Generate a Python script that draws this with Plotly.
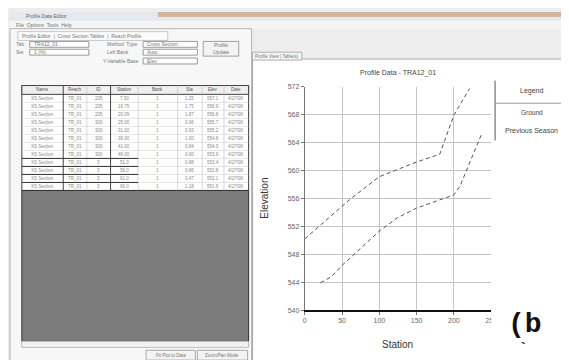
import plotly.graph_objects as go

W, H = 569, 360

# ---- chart data ----
station_ground = [0, 60, 100, 150, 181, 200, 221]
elev_ground = [550.2, 555.8, 559.1, 561.2, 562.3, 567.9, 571.7]
station_prev = [21, 36, 50, 100, 124, 150, 200, 208, 238]
elev_prev = [543.9, 544.8, 546.4, 551.3, 553.2, 554.6, 556.5, 557.7, 565.4]

x_ticks = [0, 50, 100, 150, 200, 250]
y_ticks = [540, 544, 548, 552, 556, 560, 564, 568, 572]

chart_title = "Profile Data - TRA12_01"
legend_items = ["Legend", "Ground", "Previous Season"]

# ---- table beside the chart (illegible in the source; approximate) ----
tbl_header = ["Name", "Reach", "ID", "Station", "Bank", "Sta", "Elev", "Date"]
tbl_name = ["XS Section", "XS Section", "XS Section", "XS Section", "XS Section", "XS Section",
            "XS Section", "XS Section", "XS Section", "XS Section", "XS Section", "XS Section"]
tbl_reach = ["TR_01"] * 12
tbl_id = ["205", "205", "205", "300", "300", "300", "300", "300", "3", "3", "3", "3"]
tbl_station = ["7.50", "16.75", "20.09", "25.00", "31.00", "36.00", "41.00", "46.00",
               "51.0", "56.0", "61.0", "66.0"]
tbl_bank = ["1"] * 12
tbl_sta = ["1.25", "1.75", "1.87", "0.96", "0.93", "1.00", "0.84", "0.90", "0.88", "0.86", "0.47", "1.18"]
tbl_elev = ["557.1", "556.9", "556.8", "555.7", "555.2", "554.8", "554.3", "553.9",
            "553.4", "552.8", "552.1", "551.6"]
tbl_date = ["4/27/06"] * 12


def px(x):
    return x / W


def py(y):
    return 1 - y / H


def rect(x0, y0, x1, y1, fill, line="rgba(0,0,0,0)", lw=1, layer="below"):
    return dict(type="rect", xref="paper", yref="paper", x0=px(x0), x1=px(x1),
                y0=py(y1), y1=py(y0), fillcolor=fill, line=dict(color=line, width=lw),
                layer=layer)


def hline(x0, x1, y, color, lw=1):
    return dict(type="line", xref="paper", yref="paper", x0=px(x0), x1=px(x1),
                y0=py(y), y1=py(y), line=dict(color=color, width=lw))


def vline(x, y0, y1, color, lw=1):
    return dict(type="line", xref="paper", yref="paper", x0=px(x), x1=px(x),
                y0=py(y0), y1=py(y1), line=dict(color=color, width=lw))


def label(x, y, text, size=5, color="#777", anchor="left", font="Liberation Sans"):
    return dict(xref="paper", yref="paper", x=px(x), y=py(y), text=text, showarrow=False,
                xanchor=anchor, yanchor="middle", font=dict(size=size, color=color, family=font))


fig = go.Figure()

fig.add_trace(go.Scatter(x=station_ground, y=elev_ground, mode="lines", name=legend_items[1],
                         line=dict(color="#555", width=1, dash="4px,3px"), showlegend=False))
fig.add_trace(go.Scatter(x=station_prev, y=elev_prev, mode="lines", name=legend_items[2],
                         line=dict(color="#555", width=1, dash="4px,3px"), showlegend=False))

shapes = [
    # window chrome
    rect(0, 0, W, 9, "#e4e9ef"),
    rect(150, 0, W, 5, "#d6b59a"),
    rect(0, 9, W, 17, "#f4f4f4"),
    rect(0, 17, 245, 358, "#f7f7f7", "#b5b5b5"),
    rect(8, 20, 160, 29, "#fbfbfb", "#c7c7c7"),
    # left controls
    rect(20, 30, 80, 36, "white", "#9a9a9a"),
    rect(20, 38, 80, 44, "white", "#9a9a9a"),
    rect(135, 30, 190, 36, "white", "#9a9a9a"),
    rect(135, 38, 190, 44, "white", "#9a9a9a"),
    rect(135, 47, 190, 53, "white", "#9a9a9a"),
    rect(196, 30, 232, 45, "#f3f3f3", "#a0a0a0"),
    # table
    rect(12, 75, 242, 182, "white", "#444"),
    rect(12, 75, 242, 84, "#efefef", "#444"),
    # grey empty grid area under the table
    rect(12, 182, 242, 336, "#7b7b7b", "#333", 1),
    rect(12, 336, 242, 342, "#f2f2f2", "#bbb"),
    rect(138, 345, 188, 355, "#f3f3f3", "#aaa"),
    rect(190, 345, 241, 355, "#f3f3f3", "#aaa"),
    # right panel
    rect(246, 48, W, 356, "white", "#a8a8a8"),
    rect(246, 41, 296, 49, "#f5f5f5", "#b0b0b0"),
    # legend box
    vline(492, 70, 131, "#555", 1),
    hline(492, 566, 93, "#999", 1),
    # figure label patch
    rect(488, 303, W, H, "white", layer="above"),
]

# table grid
col_edges = [12, 54, 78, 102, 130, 170, 195, 217, 242]
row_h = (182 - 84) / 12
for i in range(1, 12):
    shapes.append(hline(12, 242, 84 + i * row_h, "#d4d4d4", 0.6))
for j, cx in enumerate(col_edges[1:-1]):
    dark = cx in (54, 102)
    shapes.append(vline(cx, 75, 182, "#444" if dark else "#bdbdbd", 1 if dark else 0.6))
# selected rows outline
for i in range(8, 12):
    shapes.append(hline(12, 130, 84 + i * row_h, "#333", 1))

annotations = [
    label(14, 4, "Profile Data Editor", 5, "#666"),
    label(4, 13, "File  Options  Tools  Help", 5, "#777"),
    label(10, 24.5, "Profile Editor  |  Cross Section Tables  |  Reach Profile", 5, "#777"),
    label(4, 33, "Tab", 5), label(22, 33, "TRA12_01", 5),
    label(4, 41, "Set", 5), label(22, 41, "1 (%)", 5),
    label(96, 33, "Method  Type", 5), label(137, 33, "Cross Section", 5),
    label(96, 41, "Left Bank", 5), label(137, 41, "Auto", 5),
    label(92, 50, "Y-Variable Base", 5), label(137, 50, "Elev", 5),
    label(214, 37.5, "Profile<br>Update", 5, "#777", "center"),
    label(163, 350, "Fit Plot to Data", 4.5, "#777", "center"),
    label(215, 350, "Zoom/Pan Mode", 4.5, "#777", "center"),
    label(271, 45, "Profile View | Table(s)", 4.5, "#777", "center"),
    # chart text
    label(393.5, 62, chart_title, 7, "#444", "center"),
    dict(xref="paper", yref="paper", x=px(258), y=py(190), text="Elevation", textangle=-90,
         showarrow=False, font=dict(size=10, color="#333", family="Liberation Sans"),
         xanchor="center", yanchor="middle"),
    label(393.5, 339, "Station", 10, "#333", "center"),
    label(529, 81, legend_items[0], 7, "#444", "center"),
    label(529, 103, legend_items[1], 6.5, "#444", "center"),
    label(529, 121, legend_items[2], 7, "#444", "center"),
    # figure panel label
    label(503, 319, "<b>(b</b>", 28, "#111", "left", "Liberation Mono"),
    label(514, 344, "<b>`</b>", 14, "#111", "left", "Liberation Mono"),
]

columns = [tbl_name, tbl_reach, tbl_id, tbl_station, tbl_bank, tbl_sta, tbl_elev, tbl_date]
for j, (head, col) in enumerate(zip(tbl_header, columns)):
    cx = (col_edges[j] + col_edges[j + 1]) / 2
    annotations.append(label(cx, 79.5, head, 4.5, "#555", "center"))
    for i, val in enumerate(col):
        annotations.append(label(cx, 84 + (i + 0.5) * row_h, val, 4.5, "#888", "center"))

fig.update_layout(
    width=W, height=H,
    margin=dict(l=0, r=0, t=0, b=0),
    paper_bgcolor="#ededed",
    plot_bgcolor="white",
    showlegend=False,
    shapes=shapes,
    annotations=annotations,
    xaxis=dict(domain=[px(299), px(488)], range=[0, 250], tickvals=x_ticks,
               ticktext=[str(v) for v in x_ticks], showgrid=True, gridcolor="#c4c4c4",
               gridwidth=1, zeroline=False, showline=True, linecolor="#111", linewidth=2,
               ticks="outside", ticklen=3, tickcolor="#777",
               tickfont=dict(size=7, color="#666", family="Liberation Sans")),
    yaxis=dict(domain=[py(304), py(76)], range=[540, 572], tickvals=y_ticks,
               showgrid=True, gridcolor="#c4c4c4", gridwidth=1, zeroline=False,
               showline=True, linecolor="#777", linewidth=1, ticks="outside", ticklen=3,
               tickcolor="#777", tickfont=dict(size=7, color="#666", family="Liberation Sans")),
)

fig.write_html("out.html")
